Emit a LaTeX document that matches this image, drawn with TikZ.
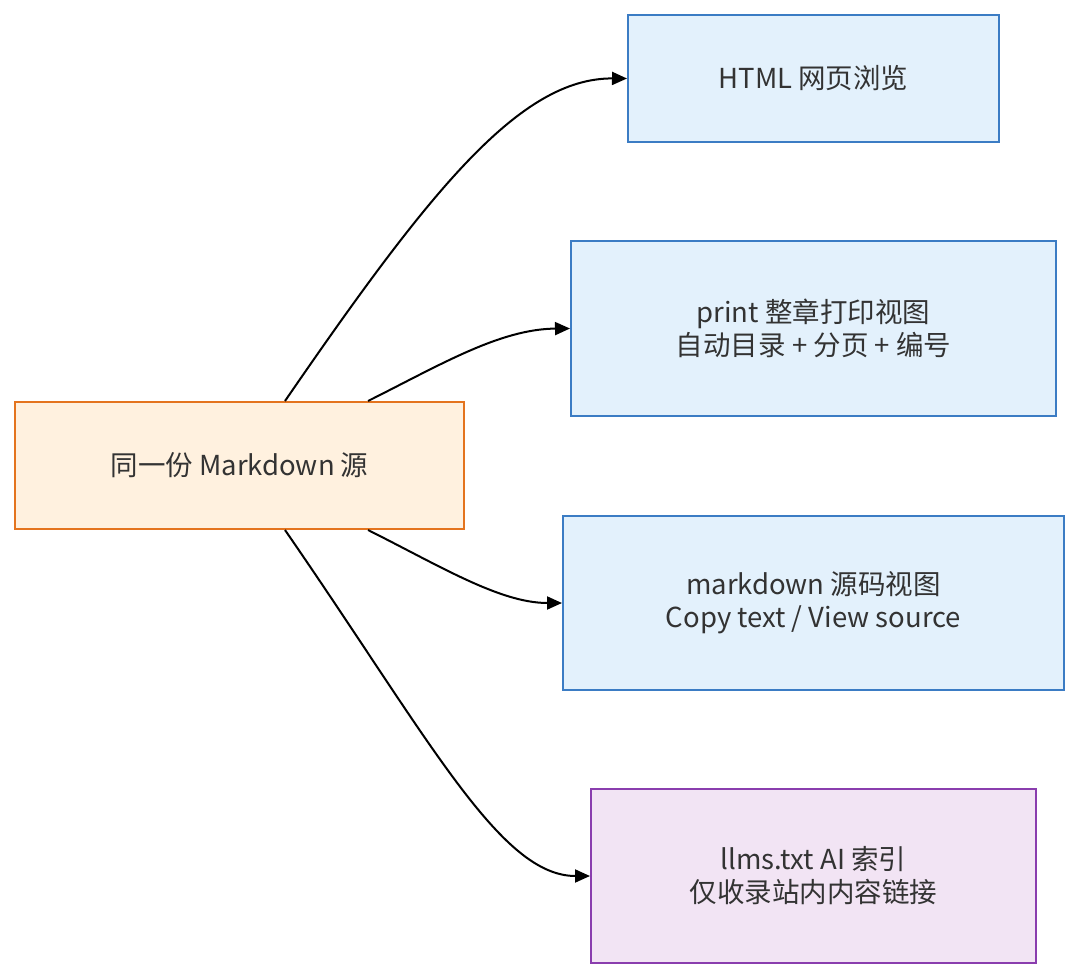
\documentclass[tikz,border=0pt]{standalone}
\usepackage{fontspec}
\setmainfont{Noto Sans CJK SC}
\usepackage{tikz}
\usetikzlibrary{arrows.meta}

\definecolor{txtgray}{HTML}{333333}
\definecolor{srcfill}{HTML}{FFF1DF}
\definecolor{srcline}{HTML}{E4741E}
\definecolor{bluefill}{HTML}{E3F1FC}
\definecolor{blueline}{HTML}{3B7CC4}
\definecolor{purpfill}{HTML}{F2E4F4}
\definecolor{purpline}{HTML}{8A3DAE}

\begin{document}
\begin{tikzpicture}[
x=1pt, y=-1pt,
every node/.style={text=txtgray, align=center, font=\fontsize{27.5}{33}\selectfont},
srcbox/.style={draw=srcline, fill=srcfill, line width=2pt, rectangle},
bluebox/.style={draw=blueline, fill=bluefill, line width=2pt, rectangle},
purplebox/.style={draw=purpline, fill=purpfill, line width=2pt, rectangle},
flow/.style={draw=black, line width=2pt, -{Triangle[length=15pt,width=13pt]}}
]
\useasboundingbox (0,0) rectangle (1080,980);

\node[srcbox, minimum width=449pt, minimum height=127pt] (src) at (239.5,465.5) {同一份 Markdown 源};

\node[bluebox, minimum width=371pt, minimum height=127pt] (html) at (813.5,78.5) {HTML 网页浏览};
\node[bluebox, minimum width=485pt, minimum height=175pt] (print) at (813.5,328.5) {print 整章打印视图\\自动目录 + 分页 + 编号};
\node[bluebox, minimum width=501pt, minimum height=174pt] (md) at (813.5,603) {markdown 源码视图\\Copy text / View source};
\node[purplebox, minimum width=445pt, minimum height=174pt] (llms) at (813.5,876) {llms.txt AI 索引\\仅收录站内内容链接};

\draw[flow] ([xshift=45.5pt]src.north) .. controls (430,190) and (520,78) .. (html.west);
\draw[flow] ([xshift=128.5pt]src.north) .. controls (440,365) and (500,329) .. (print.west);
\draw[flow] ([xshift=128.5pt]src.south) .. controls (440,566) and (500,603) .. (md.west);
\draw[flow] ([xshift=45.5pt]src.south) .. controls (430,740) and (500,876) .. (llms.west);
\end{tikzpicture}
\end{document}
